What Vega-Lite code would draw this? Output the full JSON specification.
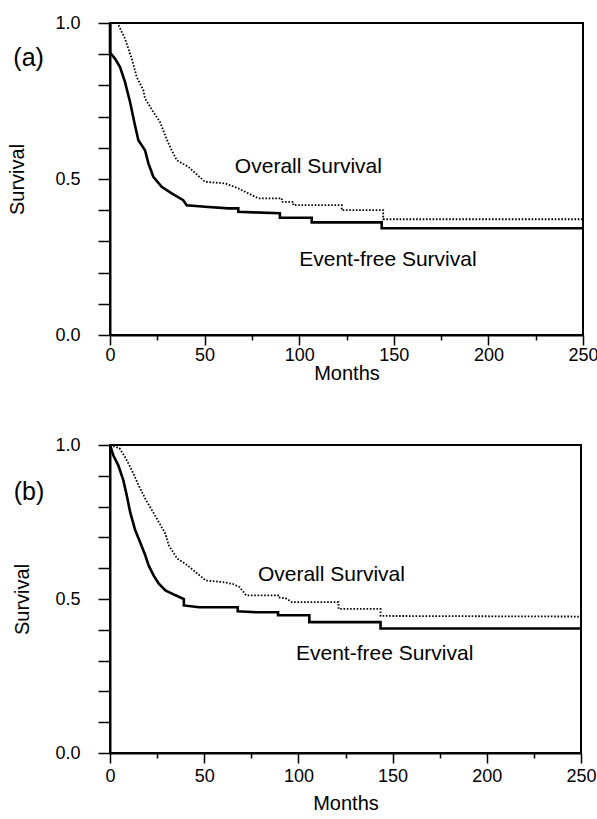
{
  "$schema": "https://vega.github.io/schema/vega-lite/v6.json",
  "padding": {"left": 6, "top": 13, "right": 0, "bottom": 5},
  "background": "white",
  "spacing": 51,
  "config": {
    "view": {"stroke": "black", "strokeWidth": 2},
    "font": "Liberation Sans",
    "axis": {
      "grid": false, "domainColor": "black", "domainWidth": 2,
      "tickColor": "black", "tickWidth": 1.5,
      "labelColor": "black", "titleColor": "black",
      "labelFont": "Liberation Sans", "titleFont": "Liberation Sans",
      "labelFontSize": 18, "titleFontSize": 20, "titleFontWeight": "normal"
    },
    "text": {"font": "Liberation Sans", "color": "black"}
  },
  "datasets": {
    "curves": [
      {"panel": "a", "curve": "EFS", "month": 0, "surv": 1.0},
      {"panel": "a", "curve": "EFS", "month": 0, "surv": 0.905},
      {"panel": "a", "curve": "EFS", "month": 2.6, "surv": 0.886},
      {"panel": "a", "curve": "EFS", "month": 5.3, "surv": 0.859},
      {"panel": "a", "curve": "EFS", "month": 7.9, "surv": 0.811},
      {"panel": "a", "curve": "EFS", "month": 10.6, "surv": 0.747},
      {"panel": "a", "curve": "EFS", "month": 13.2, "surv": 0.672},
      {"panel": "a", "curve": "EFS", "month": 15.0, "surv": 0.624},
      {"panel": "a", "curve": "EFS", "month": 18.5, "surv": 0.592},
      {"panel": "a", "curve": "EFS", "month": 20.3, "surv": 0.55},
      {"panel": "a", "curve": "EFS", "month": 22.9, "surv": 0.507},
      {"panel": "a", "curve": "EFS", "month": 27.3, "surv": 0.475},
      {"panel": "a", "curve": "EFS", "month": 32.6, "surv": 0.454},
      {"panel": "a", "curve": "EFS", "month": 38.7, "surv": 0.432},
      {"panel": "a", "curve": "EFS", "month": 40.5, "surv": 0.416},
      {"panel": "a", "curve": "EFS", "month": 50.2, "surv": 0.411},
      {"panel": "a", "curve": "EFS", "month": 62.5, "surv": 0.406},
      {"panel": "a", "curve": "EFS", "month": 67.8, "surv": 0.406},
      {"panel": "a", "curve": "EFS", "month": 67.8, "surv": 0.395},
      {"panel": "a", "curve": "EFS", "month": 76.0, "surv": 0.393},
      {"panel": "a", "curve": "EFS", "month": 89.8, "surv": 0.39},
      {"panel": "a", "curve": "EFS", "month": 89.8, "surv": 0.376},
      {"panel": "a", "curve": "EFS", "month": 106.6, "surv": 0.376},
      {"panel": "a", "curve": "EFS", "month": 106.6, "surv": 0.361},
      {"panel": "a", "curve": "EFS", "month": 143.6, "surv": 0.361},
      {"panel": "a", "curve": "EFS", "month": 143.6, "surv": 0.342},
      {"panel": "a", "curve": "EFS", "month": 250, "surv": 0.342},

      {"panel": "a", "curve": "OS", "month": 0, "surv": 1.0},
      {"panel": "a", "curve": "OS", "month": 4.0, "surv": 1.0},
      {"panel": "a", "curve": "OS", "month": 7.9, "surv": 0.95},
      {"panel": "a", "curve": "OS", "month": 11.5, "surv": 0.886},
      {"panel": "a", "curve": "OS", "month": 14.1, "surv": 0.827},
      {"panel": "a", "curve": "OS", "month": 17.6, "surv": 0.785},
      {"panel": "a", "curve": "OS", "month": 18.5, "surv": 0.758},
      {"panel": "a", "curve": "OS", "month": 22.9, "surv": 0.715},
      {"panel": "a", "curve": "OS", "month": 26.4, "surv": 0.683},
      {"panel": "a", "curve": "OS", "month": 28.5, "surv": 0.65},
      {"panel": "a", "curve": "OS", "month": 30.5, "surv": 0.62},
      {"panel": "a", "curve": "OS", "month": 32.6, "surv": 0.592},
      {"panel": "a", "curve": "OS", "month": 35.3, "surv": 0.56},
      {"panel": "a", "curve": "OS", "month": 41.4, "surv": 0.539},
      {"panel": "a", "curve": "OS", "month": 50.2, "surv": 0.491},
      {"panel": "a", "curve": "OS", "month": 60.8, "surv": 0.486},
      {"panel": "a", "curve": "OS", "month": 67.8, "surv": 0.47},
      {"panel": "a", "curve": "OS", "month": 73.1, "surv": 0.454},
      {"panel": "a", "curve": "OS", "month": 78.4, "surv": 0.438},
      {"panel": "a", "curve": "OS", "month": 90.8, "surv": 0.438},
      {"panel": "a", "curve": "OS", "month": 90.8, "surv": 0.427},
      {"panel": "a", "curve": "OS", "month": 96.9, "surv": 0.427},
      {"panel": "a", "curve": "OS", "month": 96.9, "surv": 0.416},
      {"panel": "a", "curve": "OS", "month": 122.5, "surv": 0.416},
      {"panel": "a", "curve": "OS", "month": 122.5, "surv": 0.40},
      {"panel": "a", "curve": "OS", "month": 144.4, "surv": 0.40},
      {"panel": "a", "curve": "OS", "month": 144.4, "surv": 0.371},
      {"panel": "a", "curve": "OS", "month": 250, "surv": 0.371},

      {"panel": "b", "curve": "EFS", "month": 0, "surv": 1.0},
      {"panel": "b", "curve": "EFS", "month": 1.8, "surv": 0.966},
      {"panel": "b", "curve": "EFS", "month": 4.4, "surv": 0.934},
      {"panel": "b", "curve": "EFS", "month": 7.1, "surv": 0.885},
      {"panel": "b", "curve": "EFS", "month": 8.9, "surv": 0.836},
      {"panel": "b", "curve": "EFS", "month": 10.7, "surv": 0.782},
      {"panel": "b", "curve": "EFS", "month": 13.4, "surv": 0.723},
      {"panel": "b", "curve": "EFS", "month": 16.1, "surv": 0.683},
      {"panel": "b", "curve": "EFS", "month": 18.7, "surv": 0.642},
      {"panel": "b", "curve": "EFS", "month": 20.5, "surv": 0.609},
      {"panel": "b", "curve": "EFS", "month": 23.2, "surv": 0.576},
      {"panel": "b", "curve": "EFS", "month": 25.9, "surv": 0.55},
      {"panel": "b", "curve": "EFS", "month": 29.4, "surv": 0.528},
      {"panel": "b", "curve": "EFS", "month": 34.8, "surv": 0.512},
      {"panel": "b", "curve": "EFS", "month": 39.2, "surv": 0.50},
      {"panel": "b", "curve": "EFS", "month": 39.2, "surv": 0.479},
      {"panel": "b", "curve": "EFS", "month": 47.3, "surv": 0.473},
      {"panel": "b", "curve": "EFS", "month": 67.8, "surv": 0.473},
      {"panel": "b", "curve": "EFS", "month": 67.8, "surv": 0.46},
      {"panel": "b", "curve": "EFS", "month": 77.6, "surv": 0.457},
      {"panel": "b", "curve": "EFS", "month": 89.2, "surv": 0.457},
      {"panel": "b", "curve": "EFS", "month": 89.2, "surv": 0.447},
      {"panel": "b", "curve": "EFS", "month": 105.8, "surv": 0.447},
      {"panel": "b", "curve": "EFS", "month": 105.8, "surv": 0.425},
      {"panel": "b", "curve": "EFS", "month": 143.6, "surv": 0.425},
      {"panel": "b", "curve": "EFS", "month": 143.6, "surv": 0.404},
      {"panel": "b", "curve": "EFS", "month": 250, "surv": 0.404},

      {"panel": "b", "curve": "OS", "month": 0, "surv": 1.0},
      {"panel": "b", "curve": "OS", "month": 5.0, "surv": 0.99},
      {"panel": "b", "curve": "OS", "month": 8.0, "surv": 0.961},
      {"panel": "b", "curve": "OS", "month": 11.6, "surv": 0.918},
      {"panel": "b", "curve": "OS", "month": 15.2, "surv": 0.869},
      {"panel": "b", "curve": "OS", "month": 18.7, "surv": 0.826},
      {"panel": "b", "curve": "OS", "month": 22.3, "surv": 0.788},
      {"panel": "b", "curve": "OS", "month": 25.9, "surv": 0.75},
      {"panel": "b", "curve": "OS", "month": 29.4, "surv": 0.712},
      {"panel": "b", "curve": "OS", "month": 31.2, "surv": 0.674},
      {"panel": "b", "curve": "OS", "month": 35.7, "surv": 0.631},
      {"panel": "b", "curve": "OS", "month": 40.1, "surv": 0.614},
      {"panel": "b", "curve": "OS", "month": 45.5, "surv": 0.587},
      {"panel": "b", "curve": "OS", "month": 50.9, "surv": 0.56},
      {"panel": "b", "curve": "OS", "month": 59.8, "surv": 0.555},
      {"panel": "b", "curve": "OS", "month": 65.1, "surv": 0.549},
      {"panel": "b", "curve": "OS", "month": 68.7, "surv": 0.539},
      {"panel": "b", "curve": "OS", "month": 72.3, "surv": 0.512},
      {"panel": "b", "curve": "OS", "month": 89.2, "surv": 0.512},
      {"panel": "b", "curve": "OS", "month": 89.2, "surv": 0.506},
      {"panel": "b", "curve": "OS", "month": 93.7, "surv": 0.501},
      {"panel": "b", "curve": "OS", "month": 96.4, "surv": 0.49},
      {"panel": "b", "curve": "OS", "month": 121.3, "surv": 0.49},
      {"panel": "b", "curve": "OS", "month": 121.3, "surv": 0.468},
      {"panel": "b", "curve": "OS", "month": 143.6, "surv": 0.468},
      {"panel": "b", "curve": "OS", "month": 143.6, "surv": 0.445},
      {"panel": "b", "curve": "OS", "month": 250, "surv": 0.443}
    ],
    "notes": [
      {"panel": "a", "text": "Overall Survival", "month": 66, "surv": 0.54},
      {"panel": "a", "text": "Event-free Survival", "month": 100, "surv": 0.24},
      {"panel": "b", "text": "Overall Survival", "month": 78.5, "surv": 0.578},
      {"panel": "b", "text": "Event-free Survival", "month": 98.7, "surv": 0.32}
    ],
    "tags": [
      {"panel": "a", "text": "(a)", "month": -43, "surv": 0.889},
      {"panel": "b", "text": "(b)", "month": -43, "surv": 0.847}
    ]
  },
  "vconcat": [
    {
      "width": 473, "height": 312,
      "encoding": {
        "x": {"field": "month", "type": "quantitative",
          "scale": {"domain": [0, 250], "nice": false},
          "axis": {"title": "Months", "values": [0, 25, 50, 75, 100, 125, 150, 175, 200, 225, 250],
            "labelExpr": "datum.value % 50 === 0 ? datum.label : ''",
            "tickSize": {"condition": {"test": "datum.value % 50 === 0", "value": 10}, "value": 5},
            "labelPadding": 1, "titlePadding": -1, "labelOverlap": false, "labelFlush": false}},
        "y": {"field": "surv", "type": "quantitative",
          "scale": {"domain": [0, 1], "nice": false},
          "axis": {"title": "Survival", "values": [0, 0.1, 0.2, 0.3, 0.4, 0.5, 0.6, 0.7, 0.8, 0.9, 1],
            "labelExpr": "round(datum.value * 10) % 5 === 0 ? format(datum.value, '.1f') : ''",
            "tickSize": 12, "labelPadding": 18, "titlePadding": 27, "labelOverlap": false}}
      },
      "layer": [
        {"data": {"name": "curves"}, "transform": [{"filter": "datum.panel === 'a' && datum.curve === 'OS'"}],
          "mark": {"type": "line", "interpolate": "linear", "color": "black", "strokeWidth": 1.8, "strokeDash": [1.6, 1.7]}},
        {"data": {"name": "curves"}, "transform": [{"filter": "datum.panel === 'a' && datum.curve === 'EFS'"}],
          "mark": {"type": "line", "interpolate": "linear", "color": "black", "strokeWidth": 2.6}},
        {"data": {"name": "notes"}, "transform": [{"filter": "datum.panel === 'a'"}],
          "mark": {"type": "text", "align": "left", "baseline": "middle", "fontSize": 21},
          "encoding": {"text": {"field": "text"}}},
        {"data": {"name": "tags"}, "transform": [{"filter": "datum.panel === 'a'"}],
          "mark": {"type": "text", "align": "center", "baseline": "middle", "fontSize": 25},
          "encoding": {"text": {"field": "text"}}}
      ]
    },
    {
      "width": 471, "height": 308,
      "encoding": {
        "x": {"field": "month", "type": "quantitative",
          "scale": {"domain": [0, 250], "nice": false},
          "axis": {"title": "Months", "values": [0, 25, 50, 75, 100, 125, 150, 175, 200, 225, 250],
            "labelExpr": "datum.value % 50 === 0 ? datum.label : ''",
            "tickSize": {"condition": {"test": "datum.value % 50 === 0", "value": 10}, "value": 5},
            "labelPadding": 4, "titlePadding": 8, "labelOverlap": false, "labelFlush": false}},
        "y": {"field": "surv", "type": "quantitative",
          "scale": {"domain": [0, 1], "nice": false},
          "axis": {"title": "Survival", "values": [0, 0.1, 0.2, 0.3, 0.4, 0.5, 0.6, 0.7, 0.8, 0.9, 1],
            "labelExpr": "round(datum.value * 10) % 5 === 0 ? format(datum.value, '.1f') : ''",
            "tickSize": 12, "labelPadding": 18, "titlePadding": 22, "labelOverlap": false}}
      },
      "layer": [
        {"data": {"name": "curves"}, "transform": [{"filter": "datum.panel === 'b' && datum.curve === 'OS'"}],
          "mark": {"type": "line", "interpolate": "linear", "color": "black", "strokeWidth": 1.8, "strokeDash": [1.6, 1.7]}},
        {"data": {"name": "curves"}, "transform": [{"filter": "datum.panel === 'b' && datum.curve === 'EFS'"}],
          "mark": {"type": "line", "interpolate": "linear", "color": "black", "strokeWidth": 2.6}},
        {"data": {"name": "notes"}, "transform": [{"filter": "datum.panel === 'b'"}],
          "mark": {"type": "text", "align": "left", "baseline": "middle", "fontSize": 21},
          "encoding": {"text": {"field": "text"}}},
        {"data": {"name": "tags"}, "transform": [{"filter": "datum.panel === 'b'"}],
          "mark": {"type": "text", "align": "center", "baseline": "middle", "fontSize": 25},
          "encoding": {"text": {"field": "text"}}}
      ]
    }
  ]
}
